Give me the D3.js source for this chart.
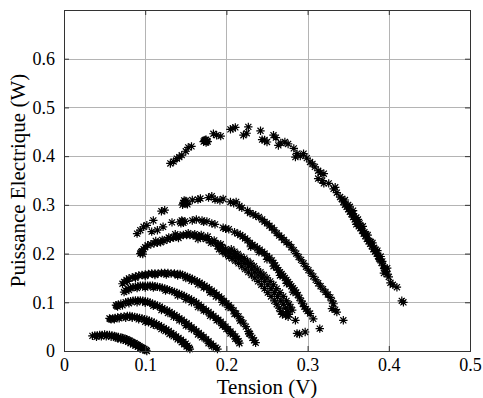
<!DOCTYPE html>
<html>
<head>
<meta charset="utf-8">
<script src="https://cdn.jsdelivr.net/npm/d3@7"></script>
<style>
  body { margin: 0; background: #fff; }
  text { font-family: "Liberation Serif", "Times New Roman", Times, serif; fill: #000; }
</style>
</head>
<body>
<svg width="483" height="398"></svg>
<script>
// tick values / labels
var xTicks = [0, 0.1, 0.2, 0.3, 0.4, 0.5];
var xTickLabels = ["0", "0.1", "0.2", "0.3", "0.4", "0.5"];
var yTicks = [0, 0.1, 0.2, 0.3, 0.4, 0.5, 0.6];
var yTickLabels = ["0", "0.1", "0.2", "0.3", "0.4", "0.5", "0.6"];

// measured points [tension (V), puissance (W)] - one array per curve
var serie1 = [[0.035,0.031],[0.038,0.032],[0.041,0.032],[0.044,0.033],[0.047,0.033],[0.050,0.034],[0.053,0.033],[0.056,0.033],[0.059,0.032],[0.062,0.031],[0.064,0.030],[0.067,0.029],[0.070,0.028],[0.072,0.027],[0.075,0.025],[0.077,0.024],[0.079,0.022],[0.081,0.021],[0.083,0.019],[0.085,0.017],[0.087,0.016],[0.089,0.014],[0.091,0.012],[0.093,0.010],[0.095,0.008],[0.097,0.006],[0.099,0.004],[0.101,0.002],[0.102,0.000],
  [0.064,0.027],[0.070,0.024],[0.076,0.021],[0.082,0.016],[0.088,0.011],[0.094,0.006],
  [0.040,0.029],[0.046,0.030],[0.052,0.030],[0.058,0.029],[0.066,0.026],[0.073,0.023],[0.079,0.019],[0.085,0.014],[0.091,0.009],[0.097,0.003]];

var serie2 = [[0.056,0.067],[0.058,0.065],[0.057,0.066],[0.060,0.067],[0.063,0.068],[0.066,0.069],[0.070,0.070],[0.074,0.071],[0.078,0.072],[0.081,0.072],[0.084,0.071],[0.087,0.070],[0.090,0.069],[0.093,0.068],[0.096,0.067],[0.099,0.065],[0.102,0.064],[0.105,0.062],[0.108,0.060],[0.111,0.058],[0.114,0.055],[0.117,0.053],[0.120,0.050],[0.123,0.047],[0.126,0.044],[0.129,0.041],[0.132,0.037],[0.135,0.034],[0.138,0.030],[0.141,0.027],[0.144,0.023],[0.147,0.019],[0.150,0.015],[0.152,0.011],[0.154,0.007],[0.155,0.004],
  [0.100,0.060],[0.110,0.054],[0.120,0.045],[0.130,0.035],[0.140,0.024],[0.148,0.014],
  [0.062,0.065],[0.068,0.067],[0.076,0.068],[0.084,0.068],[0.092,0.065],[0.104,0.059],[0.115,0.051],[0.125,0.041],[0.135,0.030],[0.145,0.018],[0.151,0.009]];

var serie3 = [[0.064,0.094],[0.066,0.091],[0.065,0.093],[0.067,0.095],[0.070,0.097],[0.076,0.100],[0.079,0.101],[0.082,0.102],[0.085,0.103],[0.088,0.104],[0.091,0.104],[0.094,0.104],[0.097,0.103],[0.100,0.102],[0.103,0.101],[0.106,0.099],[0.109,0.097],[0.112,0.095],[0.115,0.093],[0.118,0.091],[0.121,0.088],[0.124,0.085],[0.127,0.083],[0.130,0.080],[0.133,0.077],[0.136,0.074],[0.139,0.071],[0.142,0.067],[0.145,0.064],[0.148,0.060],[0.151,0.057],[0.154,0.053],[0.157,0.049],[0.160,0.045],[0.163,0.041],[0.166,0.037],[0.169,0.033],[0.172,0.029],[0.175,0.024],[0.178,0.020],[0.181,0.015],[0.184,0.011],[0.187,0.007],[0.189,0.004],
  [0.120,0.084],[0.135,0.070],[0.150,0.052],[0.165,0.034],[0.178,0.016],
  [0.072,0.094],[0.080,0.098],[0.090,0.100],[0.100,0.099],[0.110,0.093],[0.128,0.078],[0.142,0.063],[0.157,0.045],[0.170,0.028],[0.182,0.010]];

var serie4 = [[0.074,0.121],[0.076,0.124],[0.079,0.128],[0.082,0.130],[0.085,0.131],[0.088,0.132],[0.091,0.133],[0.094,0.134],[0.097,0.134],[0.100,0.134],[0.103,0.134],[0.106,0.134],[0.109,0.134],[0.112,0.133],[0.115,0.132],[0.118,0.131],[0.121,0.130],[0.124,0.128],[0.127,0.127],[0.130,0.125],[0.133,0.123],[0.136,0.121],[0.139,0.119],[0.142,0.117],[0.145,0.115],[0.148,0.113],[0.151,0.110],[0.154,0.108],[0.157,0.105],[0.160,0.102],[0.163,0.099],[0.166,0.095],[0.169,0.091],[0.172,0.087],[0.175,0.083],[0.178,0.080],[0.181,0.076],[0.184,0.072],[0.187,0.068],[0.190,0.064],[0.193,0.060],[0.196,0.055],[0.199,0.050],[0.202,0.045],[0.205,0.040],[0.208,0.035],[0.211,0.030],[0.213,0.025],[0.215,0.020],[0.216,0.016],
  [0.150,0.106],[0.165,0.090],[0.180,0.072],[0.195,0.052],[0.205,0.036],
  [0.080,0.125],[0.090,0.129],[0.100,0.130],[0.110,0.130],[0.125,0.124],[0.140,0.114],[0.157,0.100],[0.172,0.083],[0.188,0.063],[0.200,0.045],[0.211,0.025]];

var serie5 = [[0.072,0.138],[0.074,0.142],[0.077,0.146],[0.080,0.149],[0.084,0.151],[0.088,0.153],[0.092,0.155],[0.096,0.156],[0.100,0.157],[0.104,0.158],[0.108,0.159],[0.112,0.159],[0.116,0.159],[0.120,0.160],[0.124,0.160],[0.128,0.160],[0.132,0.159],[0.136,0.159],[0.140,0.158],[0.143,0.158],[0.146,0.156],[0.149,0.154],[0.152,0.152],[0.155,0.150],[0.158,0.148],[0.161,0.145],[0.164,0.143],[0.167,0.140],[0.170,0.137],[0.173,0.134],[0.176,0.131],[0.179,0.127],[0.182,0.124],[0.185,0.120],[0.188,0.116],[0.191,0.112],[0.194,0.108],[0.197,0.103],[0.200,0.098],[0.203,0.094],[0.206,0.089],[0.209,0.083],[0.212,0.077],[0.215,0.071],[0.218,0.064],[0.221,0.057],[0.224,0.050],[0.227,0.040],[0.229,0.035],[0.232,0.027],[0.234,0.022],[0.236,0.017],
  [0.150,0.150],[0.165,0.137],[0.180,0.120],[0.195,0.100],[0.210,0.076],
  [0.078,0.143],[0.088,0.150],[0.100,0.154],[0.112,0.156],[0.126,0.157],[0.140,0.155],[0.157,0.144],[0.172,0.130],[0.187,0.112],[0.202,0.090],[0.217,0.062],[0.228,0.036]];

var serie6 = [[0.095,0.203],[0.097,0.199],[0.094,0.200],[0.096,0.205],[0.098,0.209],[0.100,0.213],[0.103,0.217],[0.107,0.219],[0.111,0.221],[0.115,0.222],[0.119,0.223],[0.123,0.226],[0.127,0.229],[0.131,0.231],[0.135,0.233],[0.139,0.235],[0.143,0.237],[0.147,0.238],[0.151,0.238],[0.155,0.238],[0.159,0.237],[0.163,0.236],[0.167,0.235],[0.171,0.233],[0.175,0.230],[0.179,0.227],[0.183,0.224],[0.187,0.221],[0.191,0.217],[0.195,0.213],[0.199,0.209],[0.203,0.204],[0.207,0.199],[0.211,0.194],[0.215,0.190],[0.219,0.185],[0.223,0.180],[0.227,0.174],[0.231,0.168],[0.235,0.162],[0.239,0.156],[0.243,0.150],[0.247,0.143],[0.251,0.136],[0.255,0.128],[0.259,0.120],[0.263,0.112],[0.267,0.103],[0.270,0.096],[0.273,0.088],[0.275,0.081],[0.277,0.075],
  [0.113,0.226],[0.121,0.228],[0.129,0.233],[0.137,0.240],[0.141,0.232],[0.153,0.242],[0.161,0.240],[0.169,0.238],[0.165,0.230],[0.177,0.235],[0.181,0.222],[0.185,0.227],[0.189,0.215],[0.197,0.206],[0.193,0.219],
  [0.191,0.209],[0.195,0.204],[0.199,0.199],[0.203,0.194],[0.207,0.190],[0.211,0.185],[0.215,0.180],[0.219,0.174],[0.223,0.168],[0.227,0.162],[0.231,0.156],[0.235,0.150],[0.239,0.143],[0.243,0.136],[0.247,0.128],[0.251,0.120],[0.255,0.112],[0.259,0.103],[0.262,0.096],[0.265,0.088],[0.267,0.081],[0.269,0.075],
  [0.206,0.209],[0.210,0.204],[0.214,0.199],[0.218,0.194],[0.222,0.190],[0.226,0.185],[0.230,0.180],[0.234,0.174],[0.238,0.168],[0.242,0.162],[0.246,0.156],[0.250,0.150],[0.254,0.143],[0.258,0.136],[0.262,0.128],[0.266,0.120],[0.270,0.112],[0.274,0.103],[0.277,0.096],[0.279,0.090],[0.281,0.084],
  [0.273,0.074],[0.276,0.070],[0.285,0.063],[0.287,0.036],[0.290,0.035],[0.297,0.039]];

var serie7 = [[0.108,0.245],[0.115,0.248],[0.122,0.255],[0.133,0.264],[0.143,0.265],[0.144,0.262],[0.146,0.266],[0.145,0.268],[0.147,0.263],[0.149,0.266],[0.158,0.268],[0.163,0.270],[0.170,0.268],[0.172,0.265],[0.176,0.266],[0.182,0.262],[0.186,0.260],[0.196,0.253],[0.199,0.251],[0.203,0.250],[0.210,0.244],[0.214,0.241],[0.217,0.238],[0.220,0.235],[0.223,0.231],[0.226,0.227],[0.229,0.222],[0.232,0.218],[0.235,0.215],[0.238,0.211],[0.241,0.208],[0.244,0.204],[0.247,0.200],[0.250,0.195],[0.253,0.191],[0.256,0.186],[0.258,0.181],[0.260,0.176],[0.262,0.171],[0.264,0.166],[0.266,0.162],[0.268,0.158],[0.270,0.154],[0.272,0.150],[0.274,0.146],[0.276,0.142],[0.278,0.137],[0.280,0.133],[0.282,0.129],[0.284,0.125],[0.286,0.120],[0.288,0.115],[0.290,0.109],[0.292,0.103],[0.294,0.097],[0.296,0.091],[0.298,0.086],[0.300,0.082],[0.303,0.077],[0.307,0.066],[0.315,0.046],
  [0.230,0.214],[0.240,0.203],[0.250,0.188],[0.258,0.174],[0.266,0.155],[0.274,0.139],[0.282,0.121]];

var serie8 = [[0.090,0.241],[0.094,0.248],[0.098,0.255],[0.102,0.258],[0.110,0.268],[0.120,0.287],[0.124,0.289],[0.146,0.300],[0.147,0.303],[0.149,0.306],[0.150,0.308],[0.151,0.303],[0.152,0.301],[0.148,0.309],[0.158,0.310],[0.165,0.311],[0.168,0.313],[0.178,0.315],[0.182,0.318],[0.186,0.311],[0.192,0.309],[0.196,0.312],[0.205,0.306],[0.209,0.303],[0.212,0.306],[0.216,0.298],[0.219,0.294],[0.226,0.288],[0.229,0.283],[0.233,0.281],[0.236,0.278],[0.240,0.275],[0.244,0.270],[0.247,0.265],[0.250,0.262],[0.253,0.257],[0.256,0.253],[0.259,0.248],[0.262,0.242],[0.265,0.237],[0.268,0.233],[0.271,0.228],[0.274,0.223],[0.277,0.219],[0.280,0.213],[0.283,0.207],[0.286,0.200],[0.289,0.193],[0.292,0.187],[0.295,0.180],[0.298,0.173],[0.301,0.166],[0.304,0.160],[0.307,0.153],[0.310,0.146],[0.313,0.139],[0.316,0.133],[0.319,0.127],[0.322,0.121],[0.325,0.116],[0.328,0.110],[0.330,0.103],[0.332,0.097],[0.330,0.087],[0.334,0.085],[0.336,0.080],[0.344,0.063]];

var serie9 = [[0.131,0.385],[0.135,0.389],[0.139,0.395],[0.142,0.398],[0.145,0.402],[0.150,0.410],[0.153,0.418],[0.157,0.420],[0.172,0.430],[0.173,0.432],[0.174,0.433],[0.175,0.434],[0.176,0.431],[0.177,0.430],[0.175,0.428],[0.184,0.446],[0.188,0.443],[0.193,0.441],[0.205,0.455],[0.208,0.457],[0.211,0.459],[0.221,0.443],[0.225,0.447],[0.227,0.460],[0.242,0.452],[0.244,0.434],[0.247,0.433],[0.250,0.429],[0.258,0.443],[0.261,0.438],[0.264,0.422],[0.267,0.427],[0.272,0.429],[0.276,0.425],[0.283,0.416],[0.285,0.398],[0.287,0.405],[0.291,0.400],[0.295,0.405],[0.299,0.396],[0.303,0.388],[0.306,0.384],[0.309,0.378],[0.313,0.370],[0.316,0.366],[0.320,0.364],[0.313,0.354],[0.318,0.350],[0.320,0.344],[0.326,0.344],[0.332,0.333],[0.334,0.336],[0.336,0.325],[0.340,0.316],[0.342,0.312],[0.344,0.306],[0.346,0.300],[0.348,0.296],[0.350,0.291],[0.352,0.286],[0.354,0.281],[0.356,0.275],[0.358,0.270],[0.360,0.266],[0.362,0.262],[0.363,0.256],[0.365,0.252],[0.367,0.247],[0.369,0.241],[0.371,0.236],[0.373,0.230],[0.375,0.225],[0.377,0.220],[0.379,0.215],[0.381,0.209],[0.383,0.204],[0.385,0.200],[0.387,0.194],[0.389,0.188],[0.391,0.181],[0.393,0.175],[0.395,0.169],[0.397,0.163],[0.398,0.158],[0.400,0.152],[0.402,0.140],[0.405,0.136],[0.410,0.131],[0.416,0.103],[0.418,0.100],
  [0.346,0.310],[0.352,0.296],[0.356,0.282],[0.360,0.260],[0.364,0.262],[0.366,0.254],[0.370,0.244],[0.372,0.240],[0.376,0.226],[0.378,0.224],[0.382,0.212],[0.384,0.208],[0.388,0.190],[0.392,0.184],[0.394,0.160],[0.396,0.168],[0.398,0.170],
  [0.350,0.300],[0.356,0.288],[0.360,0.274],[0.362,0.270],[0.368,0.256],[0.374,0.238],[0.380,0.222],[0.386,0.206],[0.390,0.194]];

var series = [serie1, serie2, serie3, serie4, serie5, serie6, serie7, serie8, serie9];

var svg = d3.select("svg"),
    mLeft = 64, mRight = 470, mTop = 10, mBottom = 351;

var x = d3.scaleLinear().domain([0, 0.5]).range([mLeft, mRight]);
var y = d3.scaleLinear().domain([0, 0.7]).range([mBottom, mTop]);

// grid
svg.append("g")
    .selectAll("line")
    .data(xTicks.slice(1, -1))
    .enter().append("line")
    .attr("x1", d => Math.round(x(d)) + 0.5).attr("x2", d => Math.round(x(d)) + 0.5)
    .attr("y1", mTop).attr("y2", mBottom)
    .attr("stroke", "#b4b4b4").attr("stroke-width", 1);

svg.append("g")
    .selectAll("line")
    .data(yTicks.slice(1))
    .enter().append("line")
    .attr("y1", d => Math.round(y(d)) + 0.5).attr("y2", d => Math.round(y(d)) + 0.5)
    .attr("x1", mLeft).attr("x2", mRight)
    .attr("stroke", "#b4b4b4").attr("stroke-width", 1);

// asterisk marker like matlab '*'
var r = 4.2, q = r * 0.72;
var star = "M" + (-r) + ",0L" + r + ",0M0," + (-r) + "L0," + r +
    "M" + (-q) + "," + (-q) + "L" + q + "," + q + "M" + (-q) + "," + q + "L" + q + "," + (-q);

var pts = svg.append("g");
series.forEach(function(s) {
    pts.selectAll(null)
        .data(s)
        .enter()
        .append("path")
        .attr("d", star)
        .attr("transform", d => "translate(" + x(d[0]) + "," + y(d[1]) + ")")
        .attr("fill", "none")
        .attr("stroke", "#000")
        .attr("stroke-width", 1.2);
});

// axes (ticks inside, box on)
function styleAxis(g) {
    g.select(".domain").remove();
    g.selectAll(".tick line").attr("stroke", "#333");
    g.selectAll("text")
        .attr("font-size", "18px")
        .attr("fill", "#000");
}

svg.append("g")
    .attr("transform", "translate(0," + mBottom + ")")
    .call(d3.axisBottom(x).tickValues(xTicks).tickFormat((d, i) => xTickLabels[i]).tickSize(-5).tickPadding(7))
    .call(styleAxis);

svg.append("g")
    .attr("transform", "translate(" + mLeft + ",0)")
    .call(d3.axisLeft(y).tickValues(yTicks).tickFormat((d, i) => yTickLabels[i]).tickSize(-5).tickPadding(9))
    .call(styleAxis);

svg.append("g")
    .attr("transform", "translate(0," + mTop + ")")
    .call(d3.axisTop(x).tickValues(xTicks).tickFormat("").tickSize(-5))
    .call(styleAxis);

svg.append("g")
    .attr("transform", "translate(" + mRight + ",0)")
    .call(d3.axisRight(y).tickValues(yTicks).tickFormat("").tickSize(-5))
    .call(styleAxis);

svg.append("rect")
    .attr("x", mLeft + 0.5).attr("y", mTop + 0.5)
    .attr("width", mRight - mLeft).attr("height", mBottom - mTop)
    .attr("fill", "none")
    .attr("stroke", "#333")
    .attr("stroke-width", 1);

// labels
svg.append("text")
    .attr("x", (mLeft + mRight) / 2)
    .attr("y", 394)
    .attr("text-anchor", "middle")
    .attr("font-size", "21px")
    .text("Tension (V)");

svg.append("text")
    .attr("transform", "translate(25," + ((mTop + mBottom) / 2) + ") rotate(-90)")
    .attr("text-anchor", "middle")
    .attr("font-size", "21px")
    .text("Puissance Electrique (W)");
</script>
</body>
</html>
